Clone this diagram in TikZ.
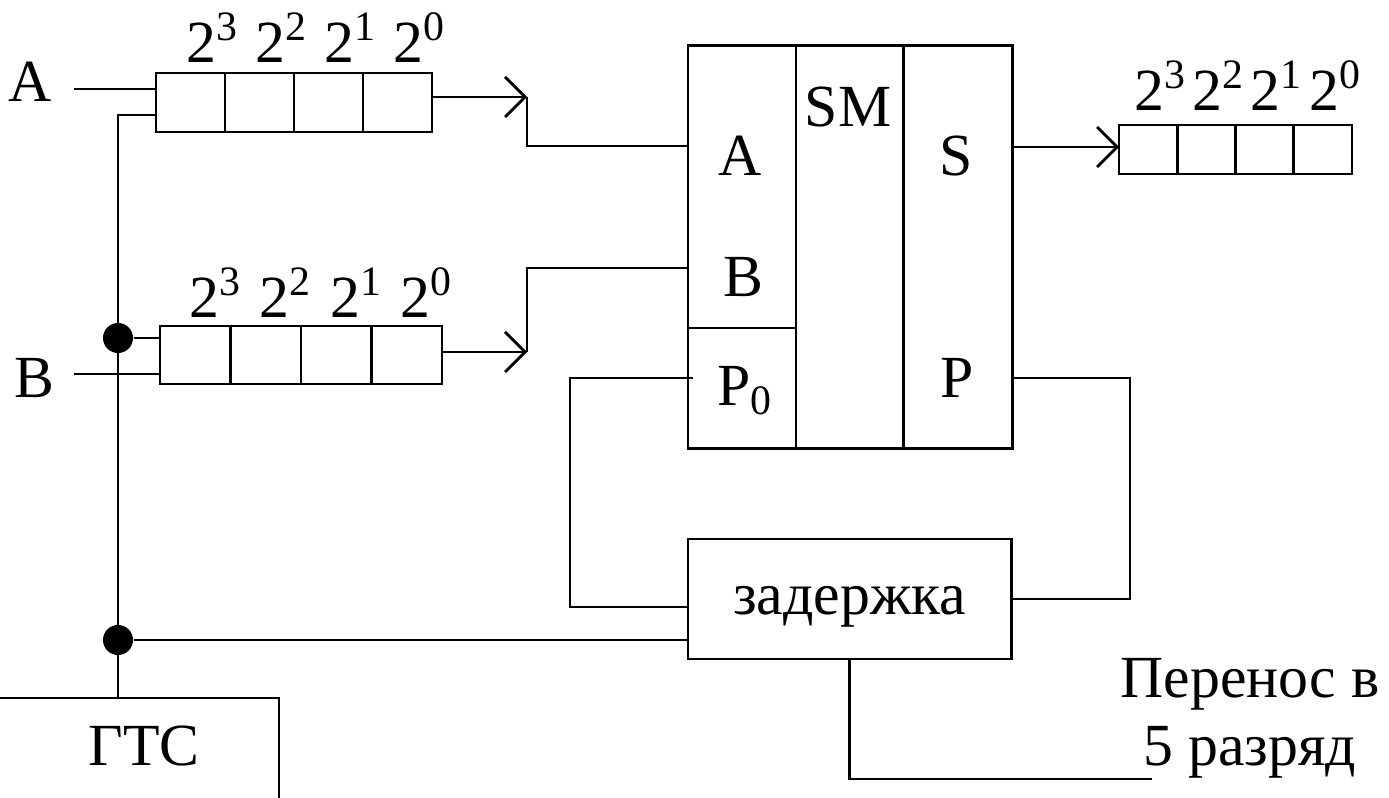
\documentclass[tikz,border=0pt]{standalone}
\usepackage{fontspec}
\setmainfont{Liberation Serif}
\usetikzlibrary{arrows.meta,positioning,calc}

\begin{document}
\begin{tikzpicture}[
  x=0.01cm, y=-0.01cm,
  font=\fontsize{17}{19.4}\selectfont,
  line width=0.8pt,
  % one bit cell of a register
  bitcell/.style={draw, inner sep=0pt, outer sep=0pt},
  % bit weight above a cell
  bitlbl/.style={anchor=base west, inner sep=0pt},
  % part of the adder / other blocks
  blk/.style={draw, inner sep=0pt, outer sep=0pt},
  % junction dot
  dot/.style={circle, fill, inner sep=0pt, minimum size=0.3cm},
  % open arrow head
  arr/.style={-{Straight Barb[length=2mm,width=4mm]}},
]
\useasboundingbox (0,0) rectangle (1389,798);

%% -- Registers (name / left x / centre y / cell w / cell h / label dx / label dy)
\foreach \rg/\rx/\ry/\cw/\cht/\lx/\ly in {a/156/102.5/69/59/29/10,
                                           b/160/355/70.5/58/28/8,
                                           s/1119/149.5/58.25/49/14/14}{
  \foreach \i in {0,...,3}{
    \pgfmathtruncatemacro\expo{3-\i}
    \node[bitcell, minimum width=\cw*0.01cm, minimum height=\cht*0.01cm]
      (\rg\i) at ({\rx+\cw*(\i+0.5)},\ry) {};
    \node[bitlbl] (\rg w\i) at ($(\rg\i.north west)+(\lx,-\ly)$)
      {2\textsuperscript{\expo}};
  }
}

%% -- Adder SM
\node[blk, minimum width=1.08cm, minimum height=2.82cm] (smAB) at (742,187) {};
\node[blk, minimum width=1.08cm, minimum height=1.20cm, below=0pt of smAB] (smP) {};
\node[blk, minimum width=1.07cm, minimum height=4.02cm, anchor=north west] (smM) at (smAB.north east) {};
\node[blk, minimum width=1.09cm, minimum height=4.02cm, anchor=north west] (smR) at (smM.north east) {};

\node (tA)  at (740,156) {A};
\node (tB)  at (743,277) {B};
\node (tP0) at (745,391) {P\textsubscript{0}};
\node (tSM) at (848,107) {SM};
\node (tS)  at (956,156) {S};
\node (tP)  at (957,378) {P};

%% -- Delay and clock generator
\node[blk, minimum width=3.23cm, minimum height=1.20cm,
      text height=0.43cm, text depth=0.13cm] (delay) at (849.5,599) {задержка};
\node[blk, minimum width=3.0cm, minimum height=1.32cm, anchor=north east] (gts) at (279,698) {};
\node (tGTS) at (144,746) {ГТС};

%% -- Text labels
\node (lblA) at (30,82) {A};
\node (lblB) at (34,378) {B};
\node[align=center] (carry) at (1250,718) {Перенос в\\5 разряд};

%% -- Connection points
\coordinate (wA) at (74,89);
\coordinate (wB) at (74,374);
\coordinate (ckA) at (118,115);
\coordinate (jA) at (527,97);
\coordinate (jB) at (527,352);
\coordinate (inA) at (688,146);
\coordinate (inB) at (688,268);
\coordinate (oS) at (1012,147);
\coordinate (oP) at (1012,378);
\coordinate (rP) at (1130,378);
\coordinate (iP) at (693,378);
\coordinate (lP) at (570,378);
\coordinate (dI) at (688,607);
\coordinate (cE) at (1152,779);

%% -- Inputs
\draw (wA) -- (wA -| a0.west);
\draw (wB) -- (wB -| b0.west);

%% -- Clock bus
\node[dot] (dB) at (118,338) {};
\node[dot] (dD) at (118,640) {};
\draw (ckA -| a0.west) -- (ckA) -- (ckA |- gts.north);
\draw (dB) -- (dB -| b0.west);
\draw (dD) -- (dD -| delay.west);

%% -- Registers to adder
\draw[arr] (jA -| a3.east) -- (jA);
\draw[arr] (jB -| b3.east) -- (jB);
\draw (jA) |- (inA);
\draw (jB) |- (inB);

%% -- Sum and carry
\draw[arr] (oS) -- (oS -| s0.west);
\draw (oP) -- (rP) |- (delay.east);
\draw (iP) -- (lP) |- (dI);
\draw (delay.south) |- (cE);

\end{tikzpicture}
\end{document}
